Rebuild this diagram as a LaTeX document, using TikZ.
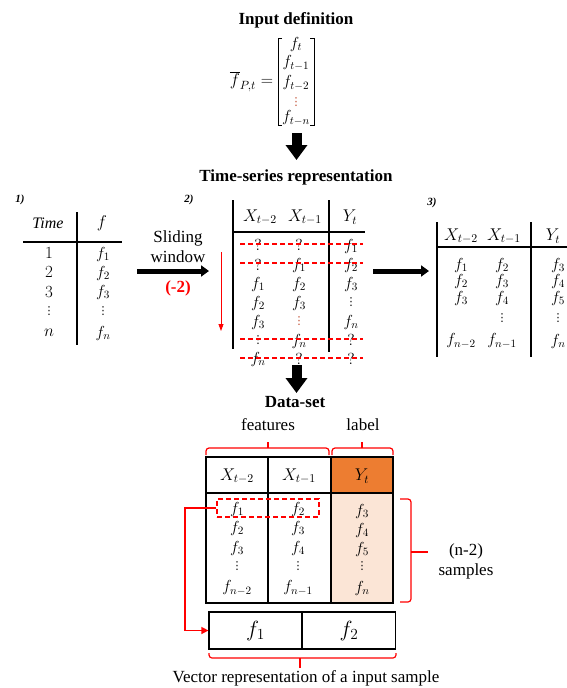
\RequirePackage{fix-cm}
\documentclass[tikz,border=0pt]{standalone}
\usepackage{fontspec}
\setmainfont{Liberation Serif}
\newfontfamily\dvs{DejaVu Sans}
\newcommand{\myvd}{{\dvs\fontsize{11}{13}\selectfont ⋮}}
\usetikzlibrary{arrows.meta}
\definecolor{myred}{RGB}{255,0,0}
\definecolor{orangeh}{RGB}{237,125,49}
\definecolor{peach}{RGB}{251,229,214}
\definecolor{dotc}{RGB}{190,70,40}
\begin{document}
\begin{tikzpicture}[x=1pt,y=-1pt,
  title/.style={font=\fontsize{17}{20}\selectfont\bfseries, inner sep=0pt},
  txt/.style={font=\fontsize{17}{20}\selectfont, inner sep=0pt, align=center},
  lab/.style={font=\fontsize{11}{13}\selectfont\bfseries\itshape, inner sep=0pt},
  m/.style={font=\fontsize{16}{18}\selectfont, inner sep=0pt},
  mh/.style={font=\fontsize{17}{19}\selectfont, inner sep=0pt},
  tl/.style={line width=1.2pt, black},
  dl/.style={myred, line width=1.1pt, dash pattern=on 5pt off 3pt},
  rb/.style={myred, line width=1.2pt, rounded corners=3pt},
  barrow/.style={line width=10pt, -{Triangle[length=15pt,width=21pt]}},
  harrow/.style={line width=5pt, -{Triangle[length=8pt,width=11pt]}},
  redarrow/.style={myred, line width=1.4pt, -{Triangle[length=7pt,width=7pt]}},
  thinred/.style={myred, line width=0.8pt, -{Triangle[length=7pt,width=5pt]}},
  vbox/.style={draw, line width=1.2pt, minimum width=93pt, minimum height=37pt, inner sep=0pt, font=\fontsize{22}{26}\selectfont}
]
\useasboundingbox (0,0) rectangle (567,688);
\fill[white] (0,0) rectangle (567,688);

% ---------- Input definition ----------
\node[title] (tin) at (296,20) {Input definition};
\node[mh] (fbar) at (243,82) {$\overline{f}_{P,t}$};
\node[mh] (eq) at (267,82) {$=$};
\draw[line width=0.9pt] (282,38) -- (278,38) -- (278,125) -- (282,125);
\draw[line width=0.9pt] (310,38) -- (314,38) -- (314,125) -- (310,125);
\node[m] (v1) at (296,44) {$f_t$};
\node[m] (v2) at (296,63) {$f_{t-1}$};
\node[m] (v3) at (296,83) {$f_{t-2}$};
\node[m, text=dotc] (v4) at (296,102) {\myvd};
\node[m] (v5) at (296,118) {$f_{t-n}$};

\coordinate (a1s) at (296.5,133);
\coordinate (a1e) at (296.5,160);
\draw[barrow] (a1s) -- (a1e);

% ---------- Time-series representation ----------
\node[title] (tts) at (296,177) {Time-series representation};
\node[lab] (l1) at (20,200) {1)};
\node[lab] (l2) at (189,200) {2)};
\node[lab] (l3) at (432,203) {3)};

% table 1
\node[m] (t1h1) at (48,223) {\textit{Time}};
\node[mh] (t1h2) at (102,223) {$f$};
\draw[tl] (77,212) -- (77,345);
\draw[tl] (23,242) -- (122,242);
\node[mh] (t1a1) at (49,253) {$1$};
\node[mh] (t1a2) at (49,272) {$2$};
\node[mh] (t1a3) at (49,292) {$3$};
\node[m]  (t1a4) at (49,311) {\myvd};
\node[mh] (t1a5) at (49,333) {$n$};
\node[m] (t1b1) at (103,254) {$f_1$};
\node[m] (t1b2) at (103,273) {$f_2$};
\node[m] (t1b3) at (103,292) {$f_3$};
\node[m] (t1b4) at (103,311) {\myvd};
\node[m] (t1b5) at (103,333) {$f_n$};

% sliding window
\node[txt] (sw) at (178,247) {Sliding\\window};
\node[txt, text=myred, font=\fontsize{17}{20}\selectfont\bfseries] (m2) at (178,288) {(-2)};
\coordinate (h1s) at (137,271);
\coordinate (h1e) at (209,271);
\draw[harrow] (h1s) -- (h1e);
\coordinate (rs) at (221,252);
\coordinate (re) at (221,331);
\draw[thinred] (rs) -- (re);

% table 2
\draw[tl] (233,200) -- (233,349);
\draw[tl] (329,200) -- (329,352);
\draw[tl] (233,232) -- (365,232);
\node[mh] (t2h1) at (260,217) {$X_{t-2}$};
\node[mh] (t2h2) at (305,217) {$X_{t-1}$};
\node[mh] (t2h3) at (350,217) {$Y_t$};
\node[m] (t2a1) at (258,245) {$?$};
\node[m] (t2a2) at (258,265) {$?$};
\node[m] (t2a3) at (258,284) {$f_1$};
\node[m] (t2a4) at (258,303) {$f_2$};
\node[m] (t2a5) at (258,322) {$f_3$};
\node[m] (t2a6) at (258,340) {\myvd};
\node[m] (t2a7) at (258,359) {$f_n$};
\node[m] (t2b1) at (299,245) {$?$};
\node[m] (t2b2) at (299,265) {$f_1$};
\node[m] (t2b3) at (299,284) {$f_2$};
\node[m] (t2b4) at (299,303) {$f_3$};
\node[m, text=dotc] (t2b5) at (299,321) {\myvd};
\node[m] (t2b6) at (299,341) {$f_n$};
\node[m] (t2b7) at (299,359) {$?$};
\node[m] (t2c1) at (351,246) {$f_1$};
\node[m] (t2c2) at (351,265) {$f_2$};
\node[m] (t2c3) at (351,284) {$f_3$};
\node[m] (t2c4) at (351,302) {\myvd};
\node[m] (t2c5) at (351,322) {$f_n$};
\node[m] (t2c6) at (351,340) {$?$};
\node[m] (t2c7) at (351,359) {$?$};
\draw[dl] (240,244) -- (363,244);
\draw[dl] (240,263) -- (363,263);
\draw[dl] (240,339) -- (363,339);
\draw[dl] (240,358) -- (363,358);

\coordinate (h2s) at (373,271);
\coordinate (h2e) at (429,271);
\draw[harrow] (h2s) -- (h2e);

% table 3
\draw[tl] (437,222) -- (437,357);
\draw[tl] (531,222) -- (531,357);
\draw[tl] (437,247) -- (567,247);
\node[mh] (t3h1) at (461,236) {$X_{t-2}$};
\node[mh] (t3h2) at (504,236) {$X_{t-1}$};
\node[mh] (t3h3) at (553,236) {$Y_t$};
\node[m] (t3a1) at (461,265) {$f_1$};
\node[m] (t3a2) at (461,281) {$f_2$};
\node[m] (t3a3) at (461,298) {$f_3$};
\node[m] (t3a5) at (461,341) {$f_{n-2}$};
\node[m] (t3b1) at (502,265) {$f_2$};
\node[m] (t3b2) at (502,281) {$f_3$};
\node[m] (t3b3) at (502,298) {$f_4$};
\node[m] (t3b4) at (502,318) {\myvd};
\node[m] (t3b5) at (502,341) {$f_{n-1}$};
\node[m] (t3c1) at (558,265) {$f_3$};
\node[m] (t3c2) at (558,281) {$f_4$};
\node[m] (t3c3) at (558,298) {$f_5$};
\node[m] (t3c4) at (558,318) {\myvd};
\node[m] (t3c5) at (558,341) {$f_n$};

\coordinate (a2s) at (296.5,365);
\coordinate (a2e) at (296.5,393);
\draw[barrow] (a2s) -- (a2e);

% ---------- Data-set ----------
\node[title] (tds) at (295,402) {Data-set};
\node[txt] (feat) at (268,425) {features};
\node[txt] (labl) at (363,425) {label};
\draw[rb] (206,455) -- (206,448) -- (329,448) -- (329,455);
\draw[rb] (268,448) -- (268,442);
\draw[rb] (332,455) -- (332,448) -- (393,448) -- (393,455);
\draw[rb] (362,448) -- (362,442);

\fill[orangeh] (331,457) rectangle (393,493);
\fill[peach] (331,493) rectangle (393,603);
\draw[tl] (206,457) rectangle (393,603);
\draw[tl] (206,493) -- (393,493);
\draw[tl] (268,457) -- (268,603);
\draw[tl] (331,457) -- (331,603);
\node[mh] (d0a) at (237,476) {$X_{t-2}$};
\node[mh] (d0b) at (299,476) {$X_{t-1}$};
\node[mh] (d0c) at (362,476) {$Y_t$};
\node[m] (d1a) at (237,509) {$f_1$};
\node[m] (d2a) at (237,528) {$f_2$};
\node[m] (d3a) at (237,548) {$f_3$};
\node[m] (d4a) at (237,566) {\myvd};
\node[m] (d5a) at (237,588) {$f_{n-2}$};
\node[m] (d1b) at (298,509) {$f_2$};
\node[m] (d2b) at (298,528) {$f_3$};
\node[m] (d3b) at (298,548) {$f_4$};
\node[m] (d4b) at (298,566) {\myvd};
\node[m] (d5b) at (298,588) {$f_{n-1}$};
\node[m] (d1c) at (362,511) {$f_3$};
\node[m] (d2c) at (362,530) {$f_4$};
\node[m] (d3c) at (362,549) {$f_5$};
\node[m] (d4c) at (362,566) {\myvd};
\node[m] (d5c) at (362,588) {$f_n$};
\node[draw=myred, line width=1.1pt, dash pattern=on 5pt off 3pt, minimum width=102pt, minimum height=18pt, inner sep=0pt] (dr) at (268,508) {};

\draw[rb] (400,499) -- (411,499) -- (411,602) -- (400,602);
\draw[rb] (411,552) -- (428,552);
\node[txt] (ns) at (466,561) {(n-2)\\samples};

% vector
\node[vbox] (vb1) at (255.5,630.5) {$f_1$};
\node[vbox] (vb2) at (349,630.5) {$f_2$};
\draw[redarrow] (dr.west) -- (185,508) |- (vb1.west);
\draw[rb] (209,653) -- (209,658) -- (396,658) -- (396,653);
\draw[rb] (300,658) -- (300,668);
\node[txt] (vr) at (306,678) {Vector representation of a input sample};
\end{tikzpicture}
\end{document}
